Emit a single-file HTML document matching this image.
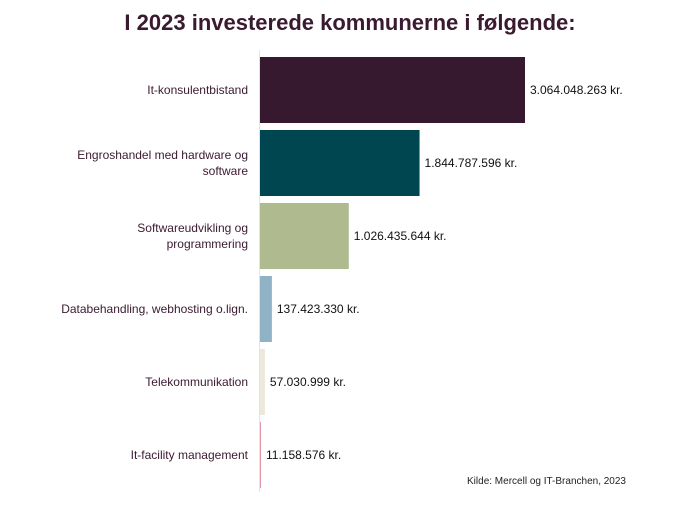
<!DOCTYPE html>
<html><head><meta charset="utf-8"><style>
body{margin:0;background:#fff;font-family:"Liberation Sans",sans-serif;}
</style></head><body>
<svg width="700" height="500" xmlns="http://www.w3.org/2000/svg">
<text x="350" y="30" text-anchor="middle" font-size="22" font-weight="bold" fill="#3a1a30">I 2023 investerede kommunerne i følgende:</text>
<line x1="259.5" y1="50" x2="259.5" y2="492" stroke="#e4e4e4"/>
<g id="bars"></g>
<text x="626" y="484" text-anchor="end" font-size="10" fill="#222">Kilde: Mercell og IT-Branchen, 2023</text>
</svg>
<script>
const categories=[["It-konsulentbistand"],["Engroshandel med hardware og","software"],["Softwareudvikling og","programmering"],["Databehandling, webhosting o.lign."],["Telekommunikation"],["It-facility management"]];
const values=[3064048263,1844787596,1026435644,137423330,57030999,11158576];
const valueLabels=["3.064.048.263 kr.","1.844.787.596 kr.","1.026.435.644 kr.","137.423.330 kr.","57.030.999 kr.","11.158.576 kr."];
const colors=["#36192f","#004650","#afba8f","#8fb2c5","#ece8dd","#e39aa8"];
const x0=260,scale=265/3064048263,top0=57,band=73,bh=66;
const xs=v=>v*scale;
const g=document.getElementById('bars');
const NS="http://www.w3.org/2000/svg";
values.forEach((v,i)=>{
  const y=top0+i*band;
  const r=document.createElementNS(NS,'rect');
  r.setAttribute('x',x0);r.setAttribute('y',y);r.setAttribute('width',Math.max(1,xs(v)));r.setAttribute('height',bh);r.setAttribute('fill',colors[i]);
  
  
  g.appendChild(r);
  const t=document.createElementNS(NS,'text');
  t.setAttribute('x',x0+Math.max(1,xs(v))+5);t.setAttribute('y',y+bh/2+4);t.setAttribute('font-size','12');t.setAttribute('fill','#111');
  t.textContent=valueLabels[i];
  
  
  g.appendChild(t);
  const lines=categories[i];
  const c=document.createElementNS(NS,'text');
  c.setAttribute('text-anchor','end');c.setAttribute('font-size','12');c.setAttribute('fill','#3a1a30');
  
  
  const y0=y+bh/2+4-(lines.length-1)*8;
  lines.forEach((l,j)=>{const s=document.createElementNS(NS,'tspan');s.setAttribute('x',248);s.setAttribute('y',y0+j*16);s.textContent=l;c.appendChild(s);});
  g.appendChild(c);
});
</script>
</body></html>
